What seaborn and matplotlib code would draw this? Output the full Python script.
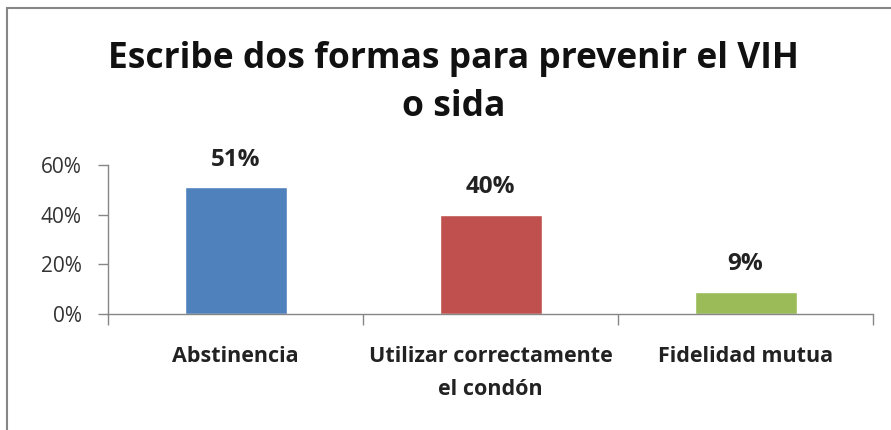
import matplotlib
matplotlib.use("Agg")
import matplotlib.pyplot as plt
import seaborn as sns
import pandas as pd
from matplotlib.patches import Rectangle
from matplotlib.ticker import FixedLocator

categories = ["Abstinencia", "Utilizar correctamente\nel condón", "Fidelidad mutua"]
values = [0.51, 0.40, 0.09]
value_labels = ["51%", "40%", "9%"]
colors = ["#4F81BD", "#C0504D", "#9BBB59"]
y_ticks = [0, 0.2, 0.4, 0.6]
y_ticklabels = ["0%", "20%", "40%", "60%"]
title = "Escribe dos formas para prevenir el VIH\no sida"

sns.set_theme(style="white")
plt.rcParams['font.family'] = ['Open Sans', 'DejaVu Sans']

df = pd.DataFrame({"cat": categories, "val": values})

fig = plt.figure(figsize=(8.91, 4.30), dpi=100)
ax = fig.add_axes([108/891, 1-314/430, (873-108)/891, 149/430])

sns.barplot(data=df, x="cat", y="val", hue="cat", palette=colors, ax=ax,
            width=0.4, legend=False, saturation=1)

ax.set_ylim(0, 0.6)
ax.set_xlim(-0.5, 2.5)
ax.set_yticks(y_ticks)
ax.set_yticklabels(y_ticklabels, fontsize=15, color="#333333")
ax.set_xticks(range(len(categories)))
ax.set_xticklabels(categories, fontsize=15.5, fontweight="bold", color="#222222",
                   linespacing=1.75)
ax.xaxis.set_minor_locator(FixedLocator([-0.5, 0.5, 1.5, 2.5]))
ax.tick_params(axis="x", which="major", length=0, pad=23)
ax.tick_params(axis="x", which="minor", length=8, width=1, color="#868686", direction="out", bottom=True)
ax.tick_params(axis="y", length=7, width=1, color="#868686", direction="out", left=True, pad=12)
ax.set_xlabel("")
ax.set_ylabel("")

for s in ["top", "right"]:
    ax.spines[s].set_visible(False)
for s in ["left", "bottom"]:
    ax.spines[s].set_color("#868686")
    ax.spines[s].set_linewidth(1)

for i, (v, lab) in enumerate(zip(values, value_labels)):
    ax.annotate(lab, (i, v), xytext=(0, 11), textcoords="offset points",
                ha="center", va="bottom", fontsize=17.5, fontweight="bold", color="#222222")

fig.text(454/891, 1-83/430, title, ha="center", va="center", fontsize=25.5,
         fontweight="bold", color="#111111", linespacing=1.45)

fig.patches.append(Rectangle((7/891, -0.05), 1.1, 1-8/430+0.05, transform=fig.transFigure,
                             fill=False, edgecolor="#868686", linewidth=1.5))

fig.savefig("out.png", dpi=100)
